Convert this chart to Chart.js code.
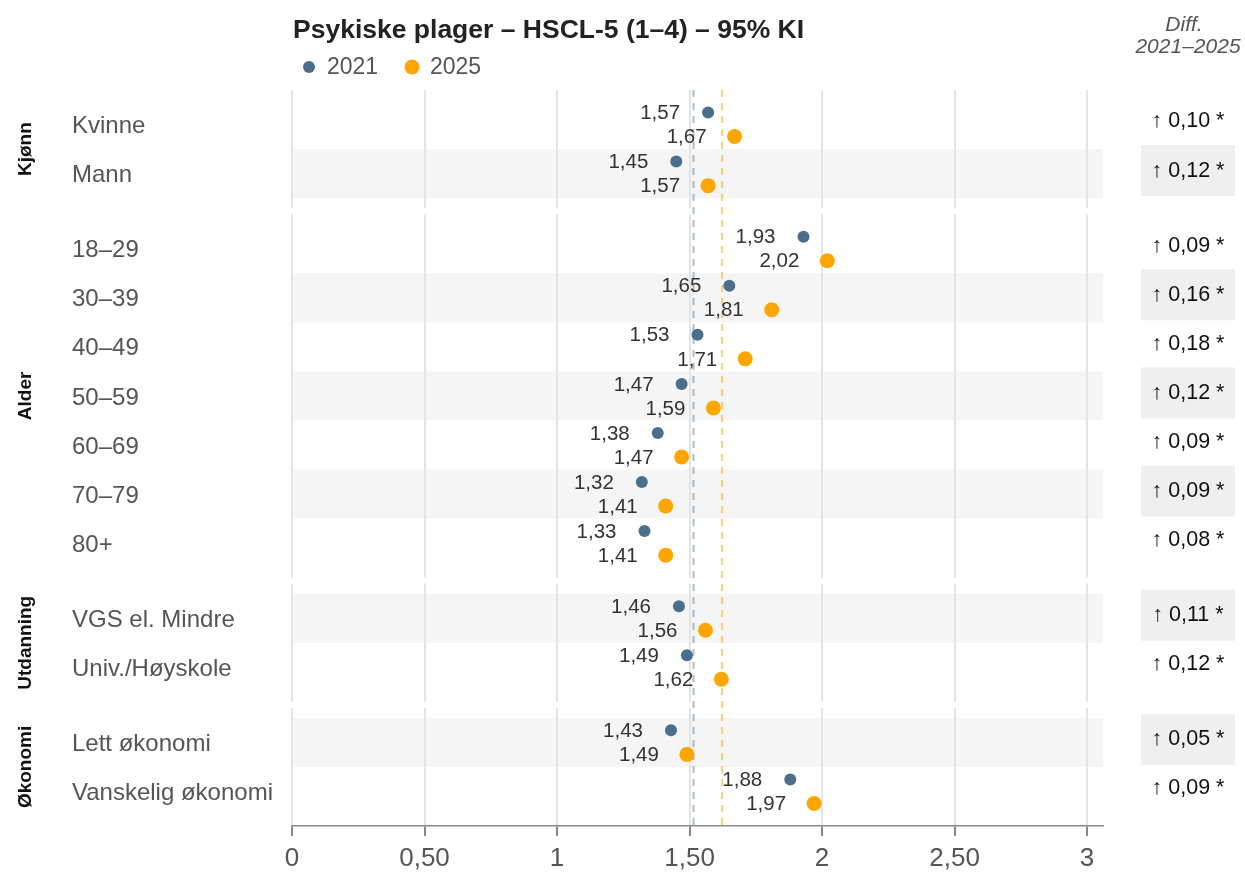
<!DOCTYPE html>
<html>
<head>
<meta charset="utf-8">
<title>Psykiske plager – HSCL-5</title>
<script src="https://cdn.jsdelivr.net/npm/chart.js@4.4.1/dist/chart.umd.min.js"></script>
<style>
  html, body { margin: 0; padding: 0; background: #fff; }
  canvas { display: block; }
</style>
</head>
<body>
<canvas id="chart" width="1245" height="873"></canvas>
<script>
// Data
const groupNames = ['Kjønn', 'Alder', 'Utdanning', 'Økonomi'];
const groupSizes = [2, 7, 2, 2];
const categories = [
  'Kvinne', 'Mann',
  '18–29', '30–39', '40–49', '50–59', '60–69', '70–79', '80+',
  'VGS el. Mindre', 'Univ./Høyskole',
  'Lett økonomi', 'Vanskelig økonomi'
];
const values2021 = [1.57, 1.45, 1.93, 1.65, 1.53, 1.47, 1.38, 1.32, 1.33, 1.46, 1.49, 1.43, 1.88];
const values2025 = [1.67, 1.57, 2.02, 1.81, 1.71, 1.59, 1.47, 1.41, 1.41, 1.56, 1.62, 1.49, 1.97];
const diffs = [0.10, 0.12, 0.09, 0.16, 0.18, 0.12, 0.09, 0.09, 0.08, 0.11, 0.12, 0.05, 0.09];
const diffSignificant = [true, true, true, true, true, true, true, true, true, true, true, true, true];
const mean2021 = 1.515;
const mean2025 = 1.623;
const xTicks = [0, 0.5, 1, 1.5, 2, 2.5, 3];

const FONT = "'Liberation Sans', Arial, sans-serif";
const BLUE = '#4a6e8c';
const ORANGE = '#ffa500';

// Row layout: one unit per row, with padding inside each group panel and a small gap between panels
const PAD = 10 / 49;
const GAP = 6 / 49;
const DOT_OFFSET = 0.245;

const rowPos = [];
const panels = [];
let cursor = 0;
groupSizes.forEach((n, g) => {
  if (g > 0) cursor += GAP;
  const top = cursor;
  cursor += PAD;
  for (let i = 0; i < n; i++) {
    rowPos.push(cursor + 0.5);
    cursor += 1;
  }
  cursor += PAD;
  panels.push({ top, bottom: cursor });
});
const yMax = cursor;

function fmt(v) {
  return v.toFixed(2).replace('.', ',');
}

const decorPlugin = {
  id: 'decor',
  beforeDraw(chart) {
    const { ctx, chartArea, scales } = chart;
    const y = scales.y;
    ctx.save();
    ctx.fillStyle = '#fff';
    ctx.fillRect(0, 0, chart.width, chart.height);

    // alternating row bands and diff boxes
    rowPos.forEach((p, i) => {
      if (i % 2 === 0) return;
      const top = y.getPixelForValue(p - 0.5);
      const bottom = y.getPixelForValue(p + 0.5);
      ctx.fillStyle = '#f5f5f5';
      ctx.fillRect(chartArea.left, top, chartArea.right - chartArea.left, bottom - top);
      const cy = y.getPixelForValue(p) - 3;
      ctx.fillStyle = '#efefef';
      ctx.fillRect(1141, cy - 25.5, 94, 51);
    });
    ctx.restore();
  },
  beforeDatasetsDraw(chart) {
    const { ctx, chartArea, scales } = chart;
    const x = scales.x;
    const y = scales.y;
    ctx.save();
    // break the grid between group panels
    ctx.fillStyle = '#fff';
    for (let g = 1; g < panels.length; g++) {
      const top = y.getPixelForValue(panels[g - 1].bottom);
      const bottom = y.getPixelForValue(panels[g].top);
      ctx.fillRect(chartArea.left - 2, top, chartArea.right - chartArea.left + 4, bottom - top);
    }
    // mean reference lines
    ctx.lineWidth = 2;
    ctx.setLineDash([7, 6]);
    [[mean2021, 'rgba(74,110,140,0.45)'], [mean2025, 'rgba(255,165,0,0.55)']].forEach(([m, c]) => {
      const px = x.getPixelForValue(m);
      ctx.strokeStyle = c;
      ctx.beginPath();
      ctx.moveTo(px, chartArea.top);
      ctx.lineTo(px, chartArea.bottom);
      ctx.stroke();
    });
    ctx.restore();
  },
  afterDatasetsDraw(chart) {
    const { ctx, scales } = chart;
    const y = scales.y;
    ctx.save();

    // value labels left of each dot
    ctx.font = '20.5px ' + FONT;
    ctx.fillStyle = '#333';
    ctx.textAlign = 'right';
    ctx.textBaseline = 'middle';
    chart.data.datasets.forEach((ds, di) => {
      const meta = chart.getDatasetMeta(di);
      meta.data.forEach((pt, i) => {
        ctx.fillText(fmt(ds.data[i].x), pt.x - 28, pt.y + 1);
      });
    });

    // rotated group labels
    ctx.font = 'bold 19px ' + FONT;
    ctx.fillStyle = '#111';
    ctx.textAlign = 'center';
    panels.forEach((p, g) => {
      const cy = (y.getPixelForValue(p.top) + y.getPixelForValue(p.bottom)) / 2;
      ctx.save();
      ctx.translate(26, cy);
      ctx.rotate(-Math.PI / 2);
      ctx.fillText(groupNames[g], 0, 0);
      ctx.restore();
    });

    // title
    ctx.textAlign = 'left';
    ctx.font = 'bold 26.5px ' + FONT;
    ctx.fillStyle = '#222';
    ctx.fillText('Psykiske plager – HSCL-5 (1–4) – 95% KI', 293, 31);

    // legend
    ctx.font = '23px ' + FONT;
    ctx.fillStyle = BLUE;
    ctx.beginPath();
    ctx.arc(309, 67, 6, 0, Math.PI * 2);
    ctx.fill();
    ctx.fillStyle = ORANGE;
    ctx.beginPath();
    ctx.arc(412, 67, 7.5, 0, Math.PI * 2);
    ctx.fill();
    ctx.fillStyle = '#555';
    ctx.fillText('2021', 327, 68);
    ctx.fillText('2025', 430, 68);

    // diff column
    ctx.textAlign = 'center';
    ctx.font = 'italic 21px ' + FONT;
    ctx.fillStyle = '#555';
    ctx.fillText('Diff.', 1184, 25);
    ctx.fillText('2021–2025', 1188, 47);
    ctx.font = '21.5px ' + FONT;
    ctx.fillStyle = '#111';
    diffs.forEach((d, i) => {
      const arrow = d >= 0 ? '↑' : '↓';
      const txt = arrow + ' ' + fmt(Math.abs(d)) + (diffSignificant[i] ? ' *' : '');
      ctx.fillText(txt, 1188, y.getPixelForValue(rowPos[i]) - 3);
    });
    ctx.restore();
  }
};

new Chart(document.getElementById('chart'), {
  type: 'scatter',
  data: {
    datasets: [
      {
        label: '2021',
        data: values2021.map((v, i) => ({ x: v, y: rowPos[i] - DOT_OFFSET })),
        backgroundColor: BLUE,
        borderWidth: 0,
        pointRadius: 6,
        pointHoverRadius: 6
      },
      {
        label: '2025',
        data: values2025.map((v, i) => ({ x: v, y: rowPos[i] + DOT_OFFSET })),
        backgroundColor: ORANGE,
        borderWidth: 0,
        pointRadius: 7.5,
        pointHoverRadius: 7.5
      }
    ]
  },
  options: {
    responsive: false,
    animation: false,
    events: [],
    layout: { padding: { top: 90, right: 142, bottom: 0, left: 72 } },
    plugins: {
      legend: { display: false },
      tooltip: { enabled: false }
    },
    scales: {
      x: {
        type: 'linear',
        min: 0,
        max: 3.06,
        afterBuildTicks: (scale) => { scale.ticks = xTicks.map(v => ({ value: v })); },
        afterFit: (scale) => { scale.height = 47; },
        grid: { color: '#e4e4e4', lineWidth: 2, tickLength: 10, tickColor: '#888' },
        border: { display: true, color: '#888', width: 1.5 },
        ticks: {
          padding: 7,
          color: '#555',
          font: { family: FONT, size: 26 },
          callback: (v) => v === 0 ? '0' : Number.isInteger(v) ? String(v) : fmt(v)
        }
      },
      y: {
        type: 'linear',
        reverse: true,
        min: 0,
        max: yMax,
        afterBuildTicks: (scale) => { scale.ticks = rowPos.map(v => ({ value: v })); },
        afterFit: (scale) => { scale.width = 220; },
        grid: { display: false },
        border: { display: false },
        ticks: {
          autoSkip: false,
          crossAlign: 'far',
          labelOffset: 2,
          color: '#555',
          font: { family: FONT, size: 24 },
          callback: (v, i) => categories[i]
        }
      }
    }
  },
  plugins: [decorPlugin]
});
</script>
</body>
</html>
